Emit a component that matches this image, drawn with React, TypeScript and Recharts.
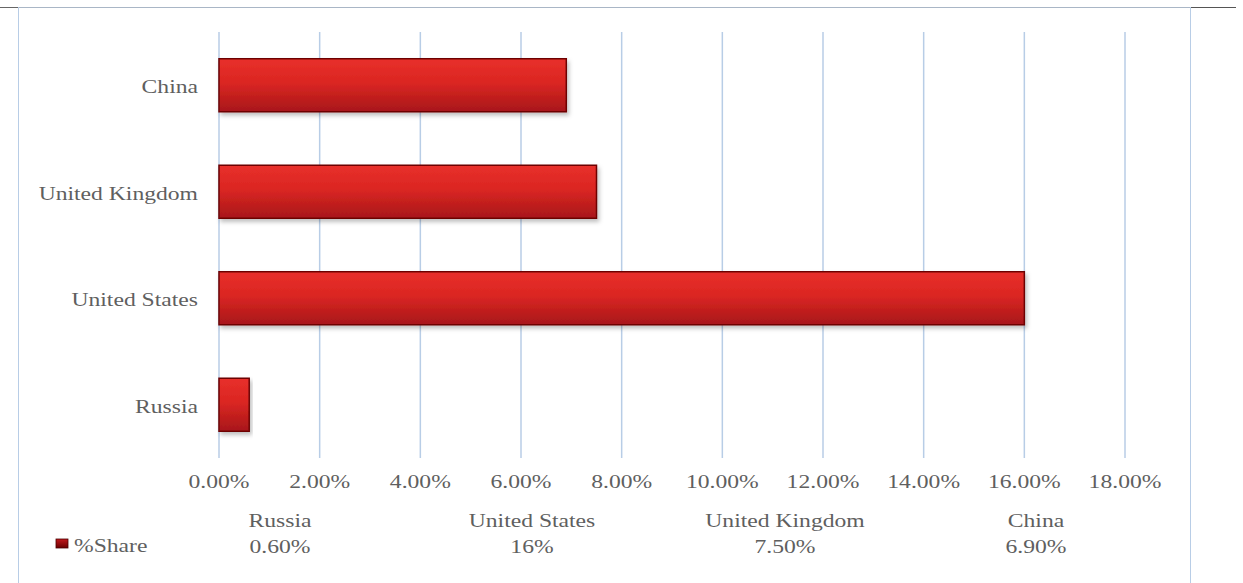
import React from 'react';
import { BarChart, Bar, XAxis, YAxis, CartesianGrid } from 'recharts';

// Table order (as in the data table below the chart)
const categories = ['Russia', 'United States', 'United Kingdom', 'China'];
const shareValues = [0.006, 0.16, 0.075, 0.069];
const shareLabels = ['0.60%', '16%', '7.50%', '6.90%'];
const xTicks = [0, 0.02, 0.04, 0.06, 0.08, 0.1, 0.12, 0.14, 0.16, 0.18];
const seriesName = '%Share';

// Chart shows China at the top, Russia at the bottom
const chartData = categories
  .map((name, i) => ({ name, share: shareValues[i] }))
  .reverse();

const FONT = '"Liberation Serif", "Times New Roman", serif';
const TEXT_COLOR = '#5f5f5f';
const FS = 18.6;
const SX = 1.27;

const W = 1243;
const H = 583;
const PLOT_LEFT = 219;
const PLOT_RIGHT = 1125;
const PLOT_TOP = 32;
const PLOT_BOTTOM = 458;

const StretchText = ({ x, y, anchor, children }: any) => (
  <g transform={`translate(${x},${y}) scale(${SX},1)`}>
    <text x={0} y={0} textAnchor={anchor} fontFamily={FONT} fontSize={FS} fill={TEXT_COLOR}>
      {children}
    </text>
  </g>
);

const XTick = (props: any) => {
  const { x, y, payload } = props;
  return (
    <StretchText x={x} y={y + 30} anchor="middle">
      {(payload.value * 100).toFixed(2) + '%'}
    </StretchText>
  );
};

const YTick = (props: any) => {
  const { x, y, payload } = props;
  return (
    <StretchText x={x} y={y + 8} anchor="end">
      {payload.value}
    </StretchText>
  );
};

const colCenters = [280, 532, 785, 1036];

export default function App() {
  return (
    <div style={{ position: 'absolute', left: 0, top: 0, width: W, height: H, background: '#fff' }}>
      {/* frame lines */}
      <div style={{ position: 'absolute', left: 0, top: 7, width: 18, height: 1, background: '#666' }} />
      <div style={{ position: 'absolute', left: 18, top: 7, width: 1172, height: 1, background: '#a9b6c6' }} />
      <div style={{ position: 'absolute', left: 1191, top: 7, width: 45, height: 1, background: '#555' }} />
      <div style={{ position: 'absolute', left: 18, top: 7, width: 1, height: 576, background: '#b8cde6' }} />
      <div style={{ position: 'absolute', left: 1190, top: 7, width: 1, height: 576, background: '#b8cde6' }} />
      <BarChart
        width={W}
        height={H}
        data={chartData}
        layout="vertical"
        margin={{ top: PLOT_TOP, right: W - PLOT_RIGHT, bottom: H - PLOT_BOTTOM - 30, left: 0 }}
        barCategoryGap="25%"
      >
        <defs>
          <linearGradient id="barGrad" x1="0" y1="0" x2="0" y2="1">
            <stop offset="0%" stopColor="#e8302b" />
            <stop offset="45%" stopColor="#db2622" />
            <stop offset="100%" stopColor="#a8171a" />
          </linearGradient>
          <filter id="barShadow" x="-5%" y="-20%" width="115%" height="150%">
            <feDropShadow dx={2} dy={3} stdDeviation={2} floodColor="#000" floodOpacity={0.25} />
          </filter>
        </defs>
        <CartesianGrid horizontal={false} vertical stroke="#b8cde6" strokeWidth={1.5} />
        <XAxis
          type="number"
          domain={[0, 0.18]}
          ticks={xTicks}
          axisLine={false}
          tickLine={false}
          tickSize={0}
          tickMargin={0}
          height={30}
          interval={0}
          tick={<XTick />}
        />
        <YAxis
          type="category"
          dataKey="name"
          width={PLOT_LEFT}
          axisLine={false}
          tickLine={false}
          tickSize={0}
          tickMargin={21}
          interval={0}
          tick={<YTick />}
        />
        <Bar
          dataKey="share"
          name={seriesName}
          fill="url(#barGrad)"
          stroke="#6e0606"
          strokeWidth={1.5}
          filter="url(#barShadow)"
          isAnimationActive={false}
        />
      </BarChart>
      <svg
        width={W}
        height={H}
        style={{ position: 'absolute', left: 0, top: 0, pointerEvents: 'none' }}
      >
        <defs>
          <linearGradient id="legGrad" x1="0" y1="0" x2="0" y2="1">
            <stop offset="0%" stopColor="#c2181c" />
            <stop offset="100%" stopColor="#6a0000" />
          </linearGradient>
        </defs>
        <rect x={56} y={539} width={12} height={9} fill="url(#legGrad)" stroke="#4a0000" strokeWidth={0.8} />
        <StretchText x={74} y={552} anchor="start">{seriesName}</StretchText>
        {categories.map((c, i) => (
          <StretchText key={c} x={colCenters[i]} y={527} anchor="middle">{c}</StretchText>
        ))}
        {shareLabels.map((v, i) => (
          <StretchText key={v + i} x={colCenters[i]} y={553} anchor="middle">{v}</StretchText>
        ))}
      </svg>
    </div>
  );
}
